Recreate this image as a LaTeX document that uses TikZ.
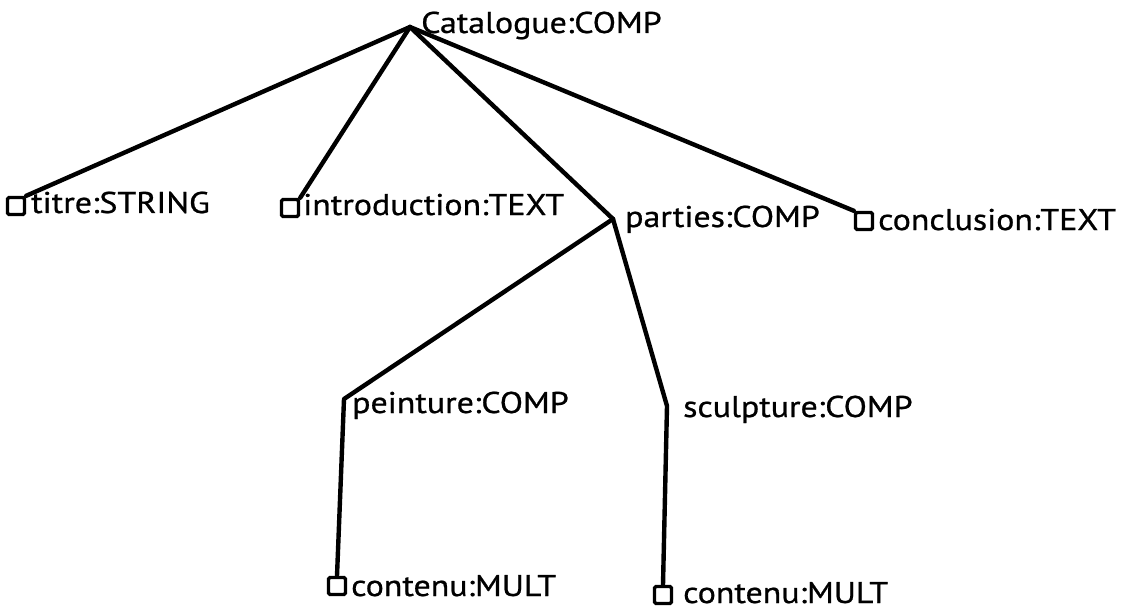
\documentclass[tikz,border=0pt]{standalone}
\usepackage{fontspec}
\setmainfont[FakeStretch=1.13,FakeBold=0.8]{PT Sans}
\begin{document}
\begin{tikzpicture}[x=1pt,y=-1pt,
  edge/.style={line width=4.4pt,line cap=round,line join=round},
  leaf/.style={draw,line width=3.4pt,minimum size=17pt,inner sep=0pt,rounded corners=1.5pt},
  lbl/.style={anchor=base west,inner sep=0pt,font=\fontsize{30}{32}\selectfont}]
\useasboundingbox (0,0) rectangle (1123,612);
% apex points
\coordinate (cat) at (410,27);
\coordinate (par) at (613,219);
\coordinate (pei) at (344,399);
\coordinate (scu) at (667,406);
% leaf squares
\node[leaf] (sqtitre) at (16,206) {};
\node[leaf] (sqintro) at (290,208) {};
\node[leaf] (sqconc) at (864,221) {};
\node[leaf] (sqc1) at (337,586) {};
\node[leaf] (sqc2) at (663,595) {};
% labels
\node[lbl] (lcat) at (421,33) {Catalogue:COMP};
\node[lbl] (ltitre) at (31,213) {titre:STRING};
\node[lbl] (lintro) at (303,215) {introduction:TEXT};
\node[lbl] (lpar) at (625,227) {parties:COMP};
\node[lbl] (lconc) at (878,230) {conclusion:TEXT};
\node[lbl] (lpei) at (352,413) {peinture:COMP};
\node[lbl] (lscu) at (683,417) {sculpture:COMP};
\node[lbl] (lc1) at (351,596) {contenu:MULT};
\node[lbl] (lc2) at (683,603) {contenu:MULT};
% edges
\draw[edge] (cat) -- (sqtitre.north east);
\draw[edge] (cat) -- (sqintro.north east);
\draw[edge] (cat) -- (par);
\draw[edge] (cat) -- (sqconc.north west);
\draw[edge] (par) -- (pei) -- (sqc1.north);
\draw[edge] (par) -- (scu) -- (sqc2.north);
\end{tikzpicture}
\end{document}
